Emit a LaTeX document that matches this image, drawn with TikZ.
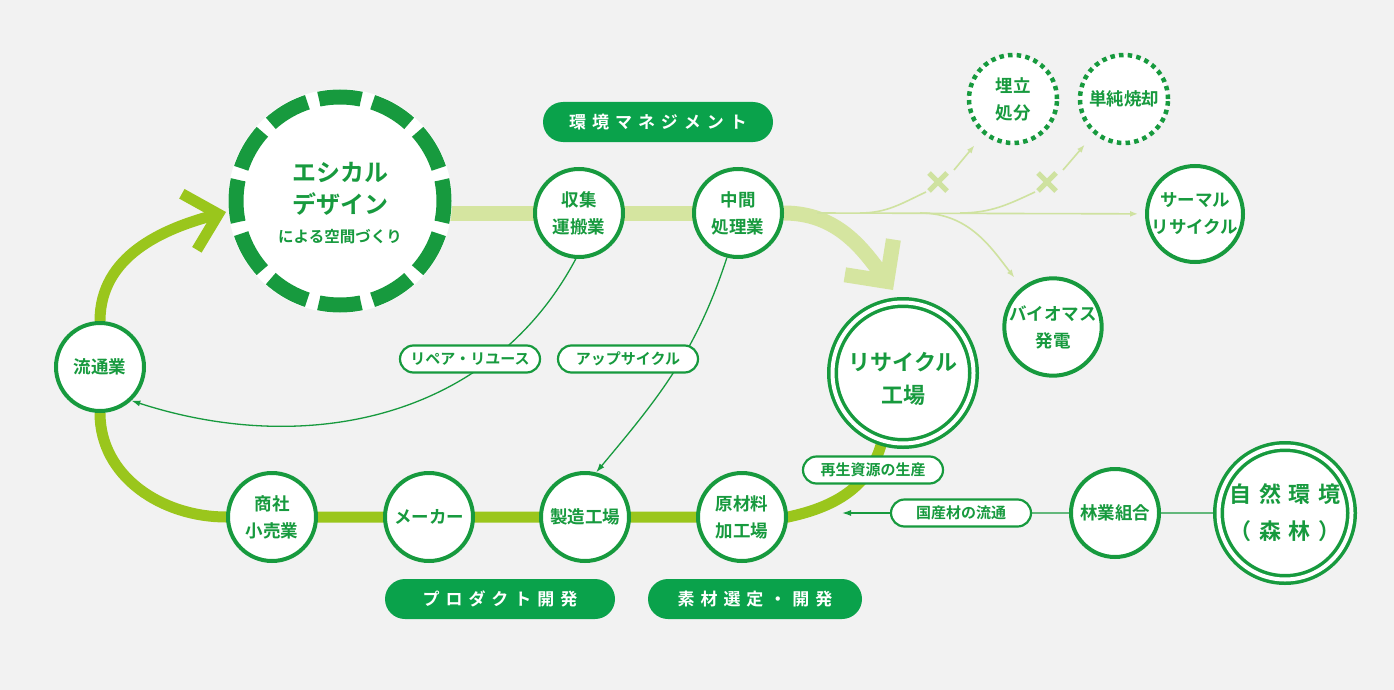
\documentclass[tikz,border=0pt]{standalone}
\usepackage{fontspec}
\setmainfont{Noto Sans CJK JP}[BoldFont={* Bold}]
\newfontfamily\widejp{Noto Sans CJK JP}[BoldFont={* Bold},LetterSpace=35]
\usetikzlibrary{arrows.meta,calc,positioning,shapes.misc}

\definecolor{bgpaper}{HTML}{F2F2F2}
\definecolor{dkgreen}{HTML}{179A3E}
\definecolor{pillgreen}{HTML}{0AA24B}
\definecolor{palegreen}{HTML}{D5E5A0}
\definecolor{limegreen}{HTML}{9AC61C}
\definecolor{thingreen}{HTML}{CFE2A0}

\pgfdeclarelayer{ground}
\pgfdeclarelayer{routes}
\pgfsetlayers{ground,routes,main}

\begin{document}
\begin{tikzpicture}[
    x=1pt, y=1pt,
    font=\bfseries\fontsize{17.5}{27}\selectfont,
    station/.style={circle, draw=dkgreen, line width=4pt, fill=white, text=dkgreen,
                    minimum size=88pt, inner sep=0pt, align=center},
    dotstation/.style={station, line width=4.5pt, dash pattern=on 4.5pt off 4.2pt},
    hub/.style={station, line width=3.5pt, double=white, double distance=4pt,
                minimum size=141pt, font=\bfseries\fontsize{22}{34}\selectfont},
    caption/.style={text=dkgreen, align=center, inner sep=0pt},
    tag/.style={rounded rectangle, draw=dkgreen, line width=2.2pt, fill=white, text=dkgreen,
                minimum width=140pt, minimum height=27pt, inner sep=0pt,
                font=\bfseries\fontsize{15}{18}\selectfont},
    band/.style={rounded rectangle, fill=pillgreen, text=white, minimum height=40pt,
                 inner sep=0pt, font=\widejp\bfseries\fontsize{17}{20}\selectfont},
    paleroute/.style={line width=15pt, palegreen},
    limeroute/.style={line width=11pt, limegreen},
    feed/.style={line width=1.3pt, dkgreen, -{Latex[length=9pt,width=6pt]}},
    branch/.style={line width=1.6pt, thingreen},
    nogo/.style={line width=5pt, thingreen},
]

\useasboundingbox (0,0) rectangle (1394,-690);
\begin{pgfonlayer}{ground}
\fill[bgpaper] (0,0) rectangle (1394,-690);
\end{pgfonlayer}

% Ethical design
\node[circle, fill=white, minimum size=224pt] (eth) at (340,-201) {};
\draw[dkgreen, line width=15pt, dash pattern=on 42.5pt off 11.95pt, dash phase=21.25pt]
  (eth.center) circle (104pt);
\node[caption, font=\bfseries\fontsize{24}{32}\selectfont] (ethtitle) at (340,-189)
  {エシカル\\デザイン};
\node[caption, font=\bfseries\fontsize{15.5}{20}\selectfont] (ethsub) at (340,-237)
  {による空間づくり};

% Upper row
\node[band, minimum width=230pt] (mgmt) at (658,-122) {環境マネジメント};
\node[station] (shu) at (579,-213) {収集\\運搬業};
\node[station] (chu) at (738,-213) {中間\\処理業};

% Recycling and disposal
\node[hub] (rcy) at (903,-373) {};
\node[caption, font=\bfseries\fontsize{22}{33}\selectfont] (rcytitle) at (903,-379)
  {リサイクル\\工場};
\node[dotstation] (ume) at (1013,-99) {埋立\\処分};
\node[dotstation] (sjk) at (1124,-99) {単純焼却};
\node[station] (the) at (1195,-214) {サーマル\\リサイクル};
\node[station] (bio) at (1053,-327) {バイオマス\\発電};

% Lower row
\node[station] (ryu) at (100,-367) {流通業};
\node[station] (sho) at (272,-517) {商社\\小売業};
\node[station] (mak) at (429,-517) {メーカー};
\node[station] (sei) at (585,-517) {製造工場};
\node[station] (gen) at (742,-517) {原材料\\加工場};
\node[station] (rin) at (1115,-513) {林業組合};
\node[hub, minimum size=133pt, font=\widejp\bfseries\fontsize{22}{37}\selectfont]
  (nat) at (1285,-513) {自然環境\\（森林）};

\node[band, minimum width=230pt] (prod) at (500,-599) {プロダクト開発};
\node[band, minimum width=214pt] (sozai) at (755,-599) {素材選定・開発};

% Labels on the flows
\node[tag] (repair) at (470,-359) {リペア・リユース};
\node[tag] (upcyc) at (628,-359) {アップサイクル};
\node[tag] (saisei) at (873,-470) {再生資源の生産};
\node[tag] (kok) at (961,-513) {国産材の流通};

\coordinate (ethin) at (226,-212);
\coordinate (rcyin) at (893,-290);
\coordinate (fork) at (817,-213);
\coordinate (nogoA) at (938,-182);
\coordinate (nogoB) at (1047,-182);
\coordinate (kokend) at (842,-513);

\begin{pgfonlayer}{routes}
% main loop
\draw[paleroute] (eth.center |- shu.center) -- (chu.center);
\draw[paleroute, -{Straight Barb[length=30pt,width=60pt]}]
  (chu.east) to[out=0,in=126] (rcyin);
\draw[limeroute] (rcy.-107) to[out=-105,in=12] (gen.east) -- (sho.west)
  to[out=180,in=-90] (ryu.south);
\draw[limeroute, -{Straight Barb[length=30pt,width=58pt]}]
  (ryu.north) to[out=90,in=195] (ethin);

% repair and upcycling
\draw[feed] (shu.-94) to[out=-118,in=-18] (ryu.-47);
\draw[feed] (chu.-104) to[out=-108,in=50] (sei.76);

% forest supply
\draw[line width=1.3pt, dkgreen] (nat) -- (kok);
\draw[feed] (kok) -- (kokend);
\end{pgfonlayer}

% disposal branches
\draw[branch, -{Latex[length=8pt,width=6pt]}, shorten >=7pt] (fork) -- (the);
\draw[branch, -{Latex[length=8pt,width=6pt]}, shorten >=12pt]
  ($(fork)+(103,0)$) to[out=0,in=128] (bio);
\draw[branch] ($(fork)+(43,0)$) to[out=0,in=-155] ($(nogoA)+(-12,-10)$);
\draw[branch] ($(fork)+(143,0)$) to[out=0,in=-155] ($(nogoB)+(-12,-10)$);
\draw[nogo] ($(nogoA)+(-9,-9)$) -- ($(nogoA)+(9,9)$) ($(nogoA)+(-9,9)$) -- ($(nogoA)+(9,-9)$);
\draw[nogo] ($(nogoB)+(-9,-9)$) -- ($(nogoB)+(9,9)$) ($(nogoB)+(-9,9)$) -- ($(nogoB)+(9,-9)$);
\draw[branch, -{Latex[length=8pt,width=6pt]}, shorten >=14pt] ($(nogoA)+(16,12)$) -- (ume);
\draw[branch, -{Latex[length=8pt,width=6pt]}, shorten >=14pt] ($(nogoB)+(16,12)$) -- (sjk);

\end{tikzpicture}
\end{document}
